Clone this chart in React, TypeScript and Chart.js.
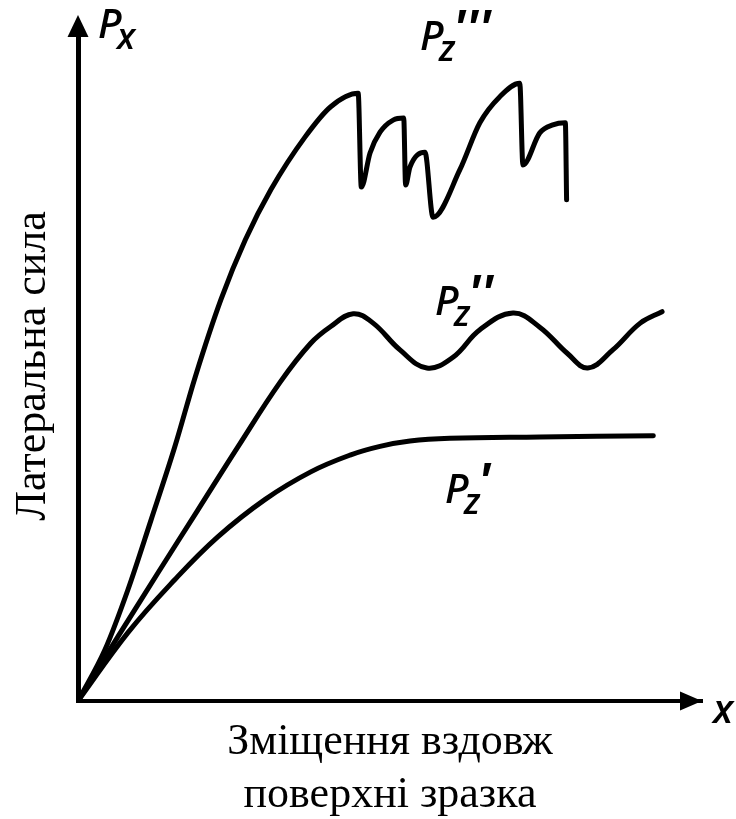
import { useEffect, useRef } from "react";
import { Chart, registerables } from "chart.js";

Chart.register(...registerables);

// P_z''' (top, sawtooth)
const pz3X = [0, 4.3, 8.0, 11.7, 15.5, 18.8, 22.9, 26.8, 30.9, 36.4, 40.5, 44.9, 45.4, 46.8, 48.4, 50.5, 52.2, 52.5, 53.2, 55.6, 56.9, 61.2, 64.4, 67.6, 70.8, 71.3, 74.0, 76.1, 78.1, 78.3];
const pz3Y = [0, 7.6, 16.6, 27.0, 37.9, 48.4, 59.9, 68.8, 76.3, 84.2, 88.7, 90.7, 76.7, 81.8, 84.9, 86.7, 87.0, 77.0, 79.7, 81.9, 72.2, 79.3, 86.3, 90.2, 92.2, 80.0, 84.8, 86.0, 86.3, 74.8];

// P_z'' (middle, wave)
const pz2X = [0, 6.4, 12.8, 19.2, 25.6, 32.4, 37.3, 40.5, 44.1, 47.3, 51.6, 55.9, 60.1, 64.4, 69.7, 74.0, 78.4, 81.7, 85.7, 90.1, 93.6];
const pz2Y = [0, 9.6, 19.1, 28.5, 37.9, 47.6, 53.4, 55.9, 57.8, 56.4, 52.4, 49.7, 51.3, 55.4, 57.9, 55.8, 51.9, 49.7, 52.4, 56.4, 58.1];

// P_z' (bottom, saturating)
const pz1X = [0, 8.0, 15.5, 22.4, 30.0, 37.3, 43.6, 48.4, 53.2, 59.6, 74.0, 92.2];
const pz1Y = [0, 10.2, 18.1, 24.5, 30.1, 34.2, 36.7, 38.0, 38.8, 39.2, 39.4, 39.6];

const xAxisTitle = ["Зміщення вздовж", "поверхні зразка"];
const yAxisTitle = "Латеральна сила";
const axisEndLabel = "x";

const labelMain = ["P", "P", "P", "P"];
const labelSub = ["x", "z", "z", "z"];
const labelPrimes = ["", "'''", "''", "'"];
const labelX = [3.2, 54.8, 57.2, 58.8];
const labelY = [99.0, 97.2, 57.6, 29.6];

const toPoints = (xs: number[], ys: number[]) => xs.map((x, i) => ({ x, y: ys[i] }));

const decorPlugin = {
  id: "decor",
  afterDraw(chart: any) {
    const { ctx, chartArea: a, scales } = chart;
    ctx.save();
    ctx.fillStyle = "#000";
    ctx.strokeStyle = "#000";
    // y-axis arrow
    const yTip = a.top - 16;
    ctx.lineWidth = 5;
    ctx.beginPath();
    ctx.moveTo(a.left, a.top + 2);
    ctx.lineTo(a.left, yTip + 12);
    ctx.stroke();
    ctx.beginPath();
    ctx.moveTo(a.left, yTip);
    ctx.lineTo(a.left - 10.5, yTip + 22);
    ctx.lineTo(a.left + 10.5, yTip + 22);
    ctx.closePath();
    ctx.fill();
    // x-axis arrow
    const xTip = a.right;
    ctx.beginPath();
    ctx.moveTo(xTip, a.bottom);
    ctx.lineTo(xTip - 22, a.bottom - 9.5);
    ctx.lineTo(xTip - 22, a.bottom + 9.5);
    ctx.closePath();
    ctx.fill();
    // curve labels
    ctx.textAlign = "left";
    ctx.textBaseline = "alphabetic";
    labelMain.forEach((m, i) => {
      const px = scales.x.getPixelForValue(labelX[i]);
      const py = scales.y.getPixelForValue(labelY[i]);
      ctx.font = 'italic 600 40px "Open Sans"';
      ctx.fillText(m, px, py);
      ctx.font = 'italic 600 36px "Open Sans"';
      ctx.fillText(labelSub[i], px + 19, py + 11);
      if (labelPrimes[i]) {
        ctx.font = 'italic bold 50px "Open Sans"';
        ctx.fillText(labelPrimes[i], px + 33, py - 4);
      }
    });
    ctx.font = 'italic 600 40px "Open Sans"';
    ctx.fillText(axisEndLabel, a.right + 11, a.bottom + 22);
    ctx.restore();
  },
};

export default function App() {
  const canvasRef = useRef<HTMLCanvasElement | null>(null);

  useEffect(() => {
    if (!canvasRef.current) return;
    const lineStyle = {
      borderColor: "#000",
      backgroundColor: "#000",
      borderWidth: 5,
      pointRadius: 0,
      fill: false,
      borderJoinStyle: "round" as const,
      borderCapStyle: "round" as const,
    };
    const chart = new Chart(canvasRef.current, {
      type: "line",
      data: {
        datasets: [
          { label: "P_z'''", data: toPoints(pz3X, pz3Y), cubicInterpolationMode: "monotone", ...lineStyle },
          { label: "P_z''", data: toPoints(pz2X, pz2Y), tension: 0.4, ...lineStyle },
          { label: "P_z'", data: toPoints(pz1X, pz1Y), tension: 0.4, ...lineStyle },
        ],
      },
      options: {
        animation: false,
        responsive: true,
        maintainAspectRatio: false,
        layout: { padding: { left: 0, right: 34, top: 31, bottom: 0 } },
        plugins: { legend: { display: false }, tooltip: { enabled: false } },
        scales: {
          x: {
            type: "linear",
            min: 0,
            max: 100,
            grid: { display: false, drawTicks: false, tickLength: 0 },
            ticks: { display: false },
            border: { display: true, color: "#000", width: 4 },
            title: {
              display: true,
              text: xAxisTitle,
              color: "#000",
              font: { family: '"Liberation Serif"', size: 44, lineHeight: 1.2 },
              padding: { top: 15.4, bottom: -3 },
            },
          },
          y: {
            type: "linear",
            min: 0,
            max: 100,
            grid: { display: false, drawTicks: false, tickLength: 0 },
            ticks: { display: false },
            border: { display: true, color: "#000", width: 5 },
            title: {
              display: true,
              text: yAxisTitle,
              color: "#000",
              font: { family: '"Liberation Serif"', size: 44, lineHeight: 1.2 },
              padding: { top: 6.6, bottom: 18.6 },
            },
          },
        },
      },
      plugins: [decorPlugin],
    });
    return () => chart.destroy();
  }, []);

  return (
    <div style={{ position: "absolute", left: 0, top: 0, width: 736, height: 819, background: "#fff" }}>
      <canvas ref={canvasRef} />
    </div>
  );
}
